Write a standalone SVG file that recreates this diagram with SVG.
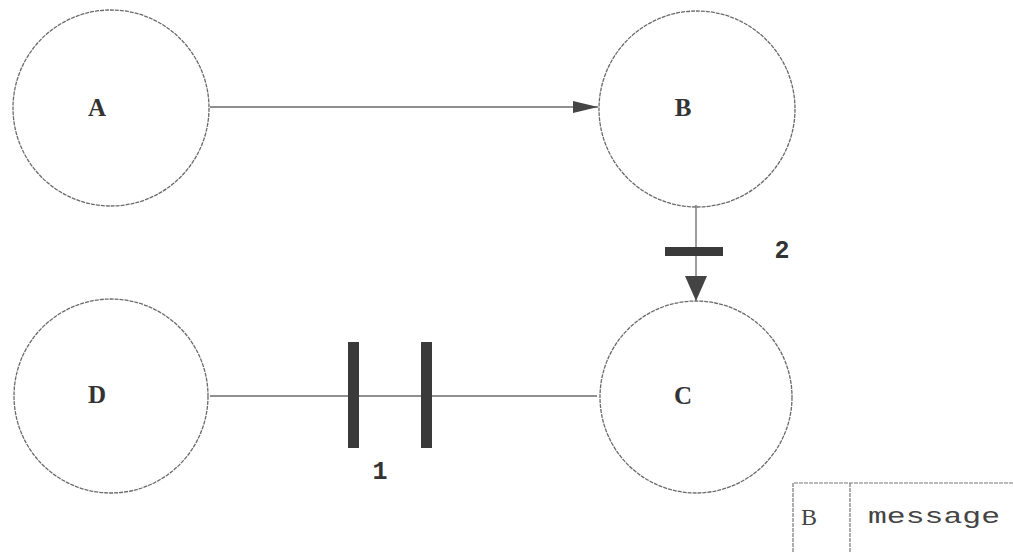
<svg xmlns="http://www.w3.org/2000/svg" width="1013" height="552" viewBox="0 0 1013 552">
<style>
.node{fill:none;stroke:#6a6a6a;stroke-width:1.3;stroke-dasharray:4 1}
.lbl{font-family:"Liberation Serif",serif;font-weight:bold;font-size:25px;fill:#333;text-anchor:middle;dominant-baseline:central}
.num{font-family:"Liberation Mono",monospace;font-weight:bold;font-size:25px;fill:#333;text-anchor:middle;dominant-baseline:central}
.edge{stroke:#6a6a6a;stroke-width:1.3;fill:none}
.bar{fill:#3a3a3a}
.leg{font-family:"Liberation Mono",monospace;font-size:22px;fill:#444;dominant-baseline:central}
</style>
<defs>
<marker id="ah" markerWidth="26" markerHeight="16" refX="25" refY="8" orient="auto" markerUnits="userSpaceOnUse">
<path d="M0,2 L25,8 L0,14 Z" fill="#444"/>
</marker>
<marker id="ahw" markerWidth="26" markerHeight="24" refX="25" refY="12" orient="auto" markerUnits="userSpaceOnUse">
<path d="M0,1 L25,12 L0,23 Z" fill="#444"/>
</marker>
</defs>
<rect width="1013" height="552" fill="#fff"/>
<g id="connectors">
<line class="edge" x1="210" y1="107" x2="598" y2="107" marker-end="url(#ah)"/>
<line class="edge" x1="696" y1="205" x2="696" y2="301" marker-end="url(#ahw)"/>
<rect class="bar" x="665" y="247" width="58" height="9"/>
<text class="num" x="782" y="251">2</text>
<line class="edge" x1="210" y1="396" x2="597" y2="396"/>
<rect class="bar" x="348" y="342" width="11" height="106"/>
<rect class="bar" x="421" y="342" width="11" height="106"/>
<text class="num" x="380" y="472">1</text>
</g>
<g id="node-A">
<circle class="node" cx="111" cy="108" r="98"/>
<text class="lbl" x="97" y="107">A</text>
</g>
<g id="node-B">
<circle class="node" cx="697" cy="109" r="98"/>
<text class="lbl" x="683" y="107">B</text>
</g>
<g id="node-C">
<circle class="node" cx="696" cy="397" r="96"/>
<text class="lbl" x="683" y="395">C</text>
</g>
<g id="node-D">
<circle class="node" cx="111" cy="396" r="97"/>
<text class="lbl" x="97" y="394">D</text>
</g>
<g id="legend">
<path d="M793,552 L793,483 L1013,483 M850,483 L850,552" fill="none" stroke="#777" stroke-width="1.2" stroke-dasharray="4 1"/>
<text class="leg" x="801" y="517" style="font-family:'Liberation Serif',serif;font-size:24px">B</text>
<text class="leg" x="868" y="517" textLength="132" lengthAdjust="spacingAndGlyphs">message</text>
</g>
</svg>
